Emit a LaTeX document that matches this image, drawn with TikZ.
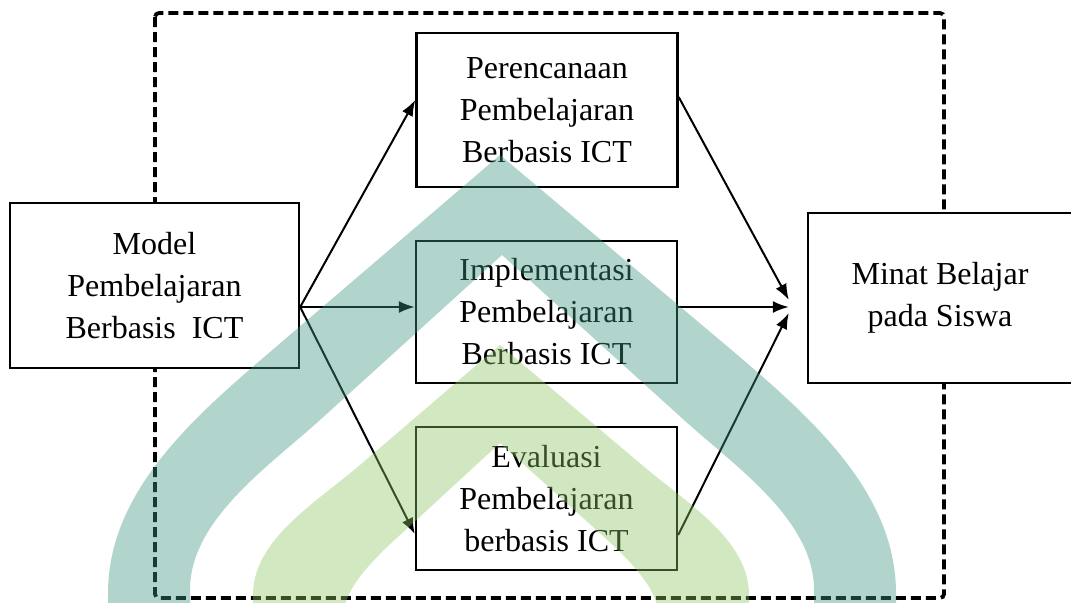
\documentclass[tikz,border=0pt]{standalone}
\usepackage{fontspec}
\setmainfont{Liberation Serif}
\usetikzlibrary{arrows.meta}
\definecolor{tosca}{RGB}{60,150,130}
\definecolor{hijau}{RGB}{140,197,100}

\begin{document}
\begin{tikzpicture}[x=0.5pt,y=-0.5pt]
  \tikzstyle{kotak}=[draw, fill=white, line width=1.2pt, align=center, inner sep=0pt, font=\fontsize{16}{21}\selectfont]
  \tikzstyle{panah}=[->,>={Latex[length=8pt,width=6pt]}, line width=1pt]
  \useasboundingbox (0,0) rectangle (1071,602);

  \draw[line width=1.9pt, dash pattern=on 5pt off 2.5pt, rounded corners=2pt] (155,13) rectangle (944,598); % dashed frame

  \node[kotak, minimum width=144.5pt, minimum height=82.5pt] (model) at (154.5,285.5) {Model\\Pembelajaran\\Berbasis\ \ ICT};
  \node[kotak, minimum width=130.5pt, minimum height=77pt] (rencana) at (547,110) {Perencanaan\\Pembelajaran\\Berbasis ICT};
  \node[kotak, minimum width=130.5pt, minimum height=71pt] (impl) at (546.5,312) {Implementasi\\Pembelajaran\\Berbasis ICT};
  \node[kotak, minimum width=130.5pt, minimum height=71.5pt] (eval) at (546.5,498.5) {Evaluasi\\Pembelajaran\\berbasis ICT};
  \node[kotak, minimum width=132pt, minimum height=85pt] (minat) at (940,298) {Minat Belajar\\pada Siswa};

  \coordinate (pangkal) at ([yshift=-10.75pt]model.east); % common start
  \draw[panah] (pangkal) -- ([yshift=5pt]rencana.west);
  \draw[panah] (pangkal) -- ([yshift=2.5pt]impl.west);
  \draw[panah] (pangkal) -- ([yshift=-17.75pt]eval.west);
  \draw[panah] ([yshift=6.5pt]rencana.east) -- ([xshift=-9pt,yshift=-1pt]minat.west);
  \draw[panah] ([yshift=2.5pt]impl.east) -- ([xshift=-9pt,yshift=-4.5pt]minat.west);
  \draw[panah] ([yshift=-18.25pt]eval.east) -- ([xshift=-9pt,yshift=-7.5pt]minat.west);

  % watermark arches
  \fill[tosca, fill opacity=0.4] (108,605) -- (108,590) .. controls (110,490) and (194,417) .. (270,352) -- (500,155) -- (734,352) .. controls (810,417) and (894,490) .. (896,590) -- (896,605) -- (814,605) -- (814,590) .. controls (814,520) and (736,467) .. (684,420) -- (502,255) -- (320,420) .. controls (268,467) and (190,520) .. (190,590) -- (190,605) -- cycle;
  \fill[hijau, fill opacity=0.4] (253,605) -- (253,595) .. controls (253,540) and (314,504) .. (360,465) -- (500,345) -- (642,465) .. controls (688,504) and (749,540) .. (749,595) -- (749,605) -- (657,605) .. controls (652,585) and (632,562) .. (602,535) -- (500,443) -- (400,535) .. controls (370,562) and (350,585) .. (345,605) -- cycle;
\end{tikzpicture}
\end{document}
